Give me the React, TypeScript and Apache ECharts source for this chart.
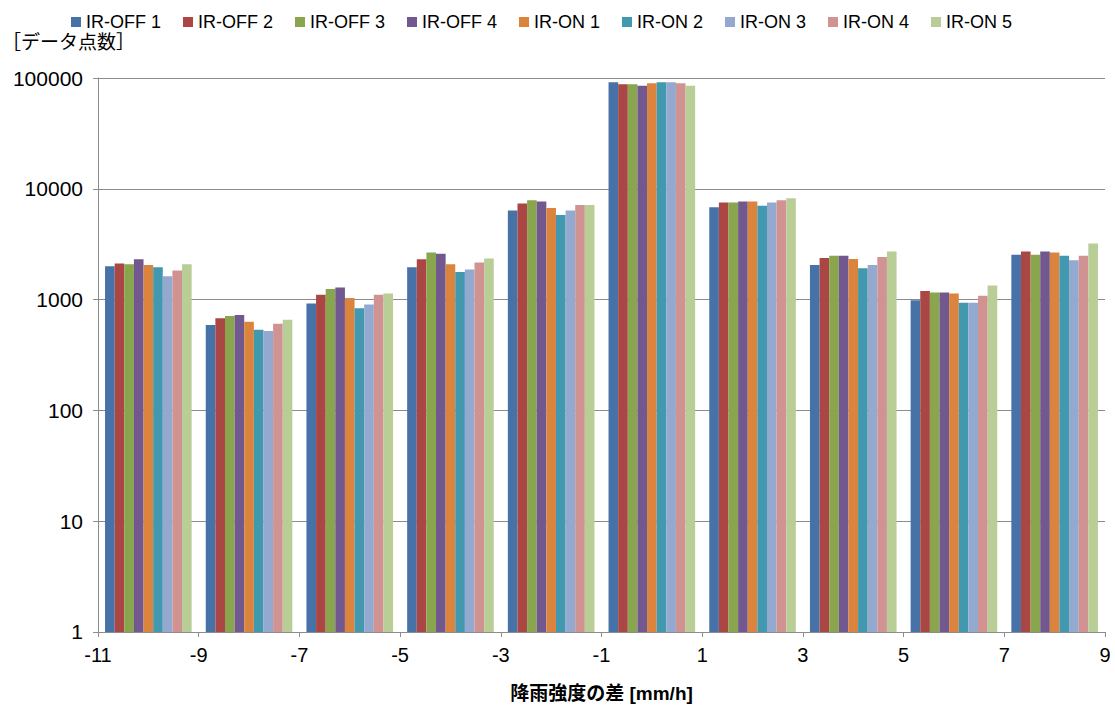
import React, { useEffect, useRef } from "react";
import * as echarts from "echarts";

const categories = ["-10", "-8", "-6", "-4", "-2", "0", "2", "4", "6", "8"];
const seriesNames = ["IR-OFF 1", "IR-OFF 2", "IR-OFF 3", "IR-OFF 4", "IR-ON 1", "IR-ON 2", "IR-ON 3", "IR-ON 4", "IR-ON 5"];
const colors = ["#4672A8", "#AA4643", "#89A54E", "#71588F", "#DB843D", "#4198AF", "#93A9CF", "#D19392", "#B9CD96"];

const irOff1 = [1995, 589, 920, 1958, 6370, 91600, 6830, 2050, 986, 2543];
const irOff2 = [2113, 680, 1107, 2308, 7360, 87900, 7510, 2370, 1194, 2722];
const irOff3 = [2090, 713, 1244, 2666, 7890, 87900, 7510, 2490, 1161, 2543];
const irOff4 = [2308, 728, 1288, 2594, 7670, 85300, 7670, 2490, 1161, 2722];
const irOn1 = [2050, 630, 1033, 2090, 6700, 89700, 7670, 2320, 1138, 2666];
const irOn2 = [1958, 535, 836, 1778, 5800, 91600, 7020, 1918, 938, 2490];
const irOn3 = [1626, 520, 902, 1866, 6370, 91600, 7510, 2050, 938, 2260];
const irOn4 = [1828, 605, 1107, 2157, 7160, 89700, 7890, 2420, 1084, 2490];
const irOn5 = [2090, 657, 1138, 2355, 7160, 85300, 8230, 2722, 1343, 3210];

const allData = [irOff1, irOff2, irOff3, irOff4, irOn1, irOn2, irOn3, irOn4, irOn5];

const xTickMin = -11;
const xTickMax = 9;
const xTickStep = 2;

const FONT = "'Liberation Sans', Arial, 'Noto Sans CJK JP', sans-serif";

export default function App() {
  const ref = useRef<HTMLDivElement>(null);
  useEffect(() => {
    if (!ref.current) return;
    const chart = echarts.init(ref.current, undefined, { renderer: "svg" });
    const option: any = {
      animation: false,
      backgroundColor: "#ffffff",
      color: colors,
      textStyle: { fontFamily: FONT },
      legend: {
        left: 66,
        top: 8,
        itemWidth: 10,
        itemHeight: 10,
        itemGap: 22,
        icon: "rect",
        textStyle: { fontSize: 18, color: "#000", fontFamily: FONT },
        data: seriesNames,
      },
      graphic: [
        {
          type: "text",
          left: 2,
          top: 33,
          style: { text: "［データ点数］", fontSize: 19, fill: "#000", fontFamily: FONT },
        },
      ],
      grid: { left: 98, right: 10, top: 78, bottom: 72, containLabel: false },
      xAxis: [
        {
          type: "category",
          data: categories,
          show: false,
          gridIndex: 0,
        },
        {
          type: "value",
          gridIndex: 0,
          position: "bottom",
          min: 0,
          max: xTickMax - xTickMin,
          interval: xTickStep,
          axisLine: { show: true, lineStyle: { color: "#8c8c8c", width: 1 } },
          axisTick: { show: true, inside: false, length: 5, lineStyle: { color: "#8c8c8c" } },
          splitLine: { show: false },
          axisLabel: {
            formatter: (v: number) => String(v + xTickMin),
            fontSize: 20,
            color: "#000",
            margin: 13,
            fontFamily: FONT,
          },
          name: "降雨強度の差 [mm/h]",
          nameLocation: "middle",
          nameGap: 52,
          nameTextStyle: { fontSize: 19, fontWeight: "bold", color: "#000", fontFamily: FONT },
        },
      ],
      yAxis: {
        type: "log",
        logBase: 10,
        min: 1,
        max: 100000,
        axisLine: { show: true, lineStyle: { color: "#8c8c8c", width: 1 } },
        axisTick: { show: true, inside: false, length: 5, lineStyle: { color: "#8c8c8c" } },
        splitLine: { show: true, lineStyle: { color: "#8c8c8c", width: 1 } },
        axisLabel: {
          fontSize: 21,
          color: "#000",
          margin: 15,
          fontFamily: FONT,
          formatter: (v: number) => String(Math.round(v)),
        },
      },
      series: seriesNames.map((name, i) => ({
        name,
        type: "bar",
        xAxisIndex: 0,
        data: allData[i],
        barGap: "0%",
        barCategoryGap: "14%",
        itemStyle: { color: colors[i] },
      })),
    };
    chart.setOption(option);
    return () => chart.dispose();
  }, []);
  return (
    <div
      ref={ref}
      style={{ position: "fixed", left: 0, top: 0, width: 1115, height: 708, background: "#fff" }}
    />
  );
}
